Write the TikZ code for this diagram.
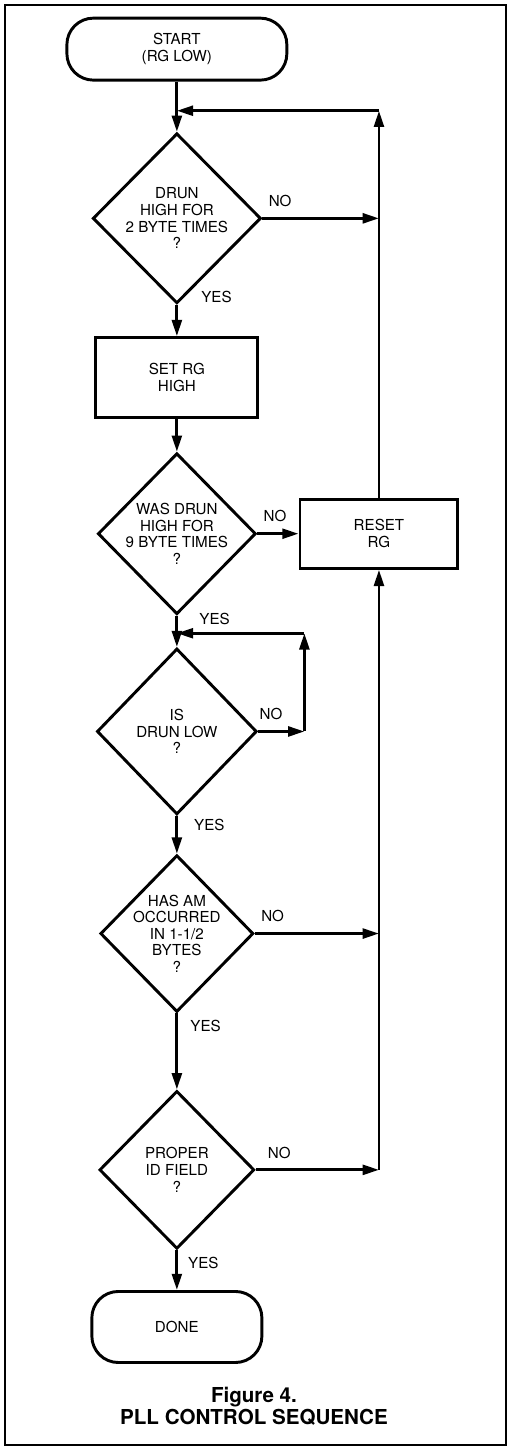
\documentclass[tikz,border=0pt]{standalone}
\usepackage{fontspec}
\setmainfont{TeX Gyre Heros}
\usetikzlibrary{positioning,shapes.geometric,arrows.meta,calc}

\begin{document}
\begin{tikzpicture}[node distance=9mm, >={Triangle[length=4.3mm,width=2.6mm]}, line width=2.2pt,
  font=\fontsize{11.4}{12.5}\selectfont,
  decision/.style={draw, diamond, aspect=1, inner sep=-8pt, align=center},
  process/.style={draw, rectangle, align=center},
  terminal/.style={draw, rectangle, rounded corners=7mm, align=center},
  yes/.style={anchor=west, inner sep=0pt, pos=0},
  no/.style={anchor=west, inner sep=0pt, pos=0, xshift=1.3mm, yshift=4.6mm}]
  \useasboundingbox (-46.8mm,13mm) rectangle (87.8mm,-370.4mm);
  \draw[line width=1.6pt] (-45.5mm,11.6mm) rectangle (87mm,-369.4mm);

  \node[terminal, minimum width=58.2mm, minimum height=16.4mm] (Start) {START\\(RG LOW)};
  \node[decision, minimum width=44.5mm, minimum height=45mm, below=13.3mm of Start] (DrunHigh) {DRUN\\HIGH FOR\\2 BYTE TIMES\\?};
  \node[process, minimum width=42.9mm, minimum height=21.2mm, below=8.3mm of DrunHigh] (SetRG) {SET RG\\HIGH};
  \node[decision, minimum width=41.8mm, minimum height=42.6mm, below=8.6mm of SetRG] (WasHigh) {WAS DRUN\\HIGH FOR\\9 BYTE TIMES\\?};
  \node[process, minimum width=41.8mm, minimum height=18.3mm, right=10.9mm of WasHigh] (ResetRG) {RESET\\RG};
  \node[decision, minimum width=42.3mm, minimum height=43.9mm, below=8.3mm of WasHigh] (IsLow) {IS\\DRUN LOW\\?};
  \node[decision, minimum width=40.5mm, minimum height=41.5mm, below=10mm of IsLow] (HasAM) {HAS AM\\OCCURRED\\IN 1-1/2\\BYTES\\?};
  \node[decision, minimum width=41mm, minimum height=41.8mm, below=20.1mm of HasAM] (ProperID) {PROPER\\ID FIELD\\?};
  \node[terminal, minimum width=45mm, minimum height=18.8mm, below=10.5mm of ProperID] (Done) {DONE};

  \node[font=\bfseries\fontsize{15.5}{16.5}\selectfont, align=center] (Caption) at ($(Done)+(20.4mm,-20.9mm)$) {Figure 4.\\PLL CONTROL SEQUENCE};

  % junctions
  \coordinate (TopJoin) at ($(Start.south)!0.58!(DrunHigh.north)$);
  \coordinate (TopRight) at (ResetRG |- TopJoin);
  \coordinate (NoA) at (ResetRG |- DrunHigh);
  \coordinate (NoD) at (ResetRG |- HasAM);
  \coordinate (NoE) at (ResetRG |- ProperID);
  \coordinate (LoopJoin) at ($(WasHigh.south)!0.56!(IsLow.north)$);
  \coordinate[right=12.2mm of IsLow.east] (LoopRight);
  \coordinate (LoopTop) at (LoopRight |- LoopJoin);

  \draw[->] (Start) -- (DrunHigh);
  \draw[->] (DrunHigh) -- node[yes, xshift=6.1mm, yshift=2.1mm] {YES} (SetRG);
  \draw[->] (SetRG) -- (WasHigh);
  \draw[->] (WasHigh) -- node[yes, xshift=5.6mm, yshift=-0.8mm] {YES} (IsLow);
  \draw[->] (IsLow) -- node[yes, xshift=4.2mm, yshift=-2.4mm] {YES} (HasAM);
  \draw[->] (HasAM) -- node[yes, xshift=3.2mm, yshift=-3.4mm] {YES} (ProperID);
  \draw[->] (ProperID) -- node[yes, xshift=2.6mm, yshift=-3.4mm] {YES} (Done);

  \draw[->] (DrunHigh) -- node[no] {NO} (NoA);
  \draw[->] (WasHigh) -- node[no] {NO} (ResetRG);
  \draw[->] (HasAM) -- node[no] {NO} (NoD);
  \draw[->] (ProperID) -- node[no, xshift=1.5mm] {NO} (NoE);
  \draw[->] (NoE) -- (ResetRG);
  \draw[->] (ResetRG) -- (TopRight);
  \draw[->] (TopRight) -- (TopJoin);

  \draw[->] (IsLow) -- node[no, xshift=-1.3mm] {NO} (LoopRight);
  \draw[->] (LoopRight) -- (LoopTop);
  \draw[->] (LoopTop) -- (LoopJoin);
\end{tikzpicture}
\end{document}
